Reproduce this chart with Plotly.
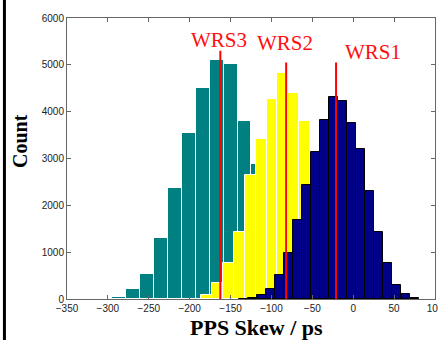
import plotly.graph_objects as go

# ---- data ----
teal_left_edge = -294.5
teal_bin_width = 17.0
teal_counts = [36, 214, 536, 1293, 2371, 3536, 4508, 5093, 5014, 3807, 2893]

yellow_left_edge = -185.7
yellow_bin_width = 13.29
yellow_counts = [86, 336, 778, 1436, 2657, 3407, 4264, 4836, 4393, 3807]

navy_left_edge = -139.4
navy_bin_width = 10.97
navy_counts = [5, 15, 86, 207, 514, 979, 1686, 2429, 3136, 3821,
               4321, 4229, 3750, 3207, 2300, 1436, 778, 300, 100, 15]

wrs_labels = ["WRS3", "WRS2", "WRS1"]
wrs_positions = [-162.5, -82.0, -21.0]
wrs_line_tops = [5300, 5050, 5050]
wrs_label_x = [-164, -84, 24]
wrs_label_y = [5540, 5460, 5280]

x_ticks = [-350, -300, -250, -200, -150, -100, -50, 0, 50, 100]
y_ticks = [0, 1000, 2000, 3000, 4000, 5000, 6000]


def centers(start, width, n):
    return [start + width * (i + 0.5) for i in range(n)]


fig = go.Figure()
fig.add_trace(go.Bar(
    x=centers(teal_left_edge, teal_bin_width, len(teal_counts)), y=teal_counts,
    width=teal_bin_width, marker=dict(color="#008080", line=dict(color="white", width=1)),
    showlegend=False))
fig.add_trace(go.Bar(
    x=centers(yellow_left_edge, yellow_bin_width, len(yellow_counts)), y=yellow_counts,
    width=yellow_bin_width, marker=dict(color="#ffff00", line=dict(color="white", width=1)),
    showlegend=False))
fig.add_trace(go.Bar(
    x=centers(navy_left_edge, navy_bin_width, len(navy_counts)), y=navy_counts,
    width=navy_bin_width, marker=dict(color="#000088", line=dict(color="black", width=1)),
    showlegend=False))

for pos, top, lab, lx, ly in zip(wrs_positions, wrs_line_tops, wrs_labels, wrs_label_x, wrs_label_y):
    fig.add_shape(type="line", xref="x", yref="y", x0=pos, x1=pos, y0=0, y1=top,
                  line=dict(color="#ff0000", width=2))
    fig.add_annotation(x=lx, y=ly, xref="x", yref="y", text=lab, showarrow=False,
                       font=dict(family="Liberation Serif", size=21, color="#ff1010"),
                       xanchor="center", yanchor="middle")

# axis titles as annotations
fig.add_annotation(x=0.5136, y=-0.101, xref="paper", yref="paper", text="<b>PPS Skew / ps</b>",
                   showarrow=False, font=dict(family="Liberation Serif", size=22, color="black"),
                   xanchor="center", yanchor="middle")
fig.add_annotation(x=-0.128, y=0.562, xref="paper", yref="paper", text="<b>Count</b>",
                   showarrow=False, textangle=-90,
                   font=dict(family="Liberation Serif", size=20, color="black"),
                   xanchor="center", yanchor="middle")

# left black border of the picture
fig.add_shape(type="line", xref="paper", yref="paper", x0=-0.17, x1=-0.17, y0=-0.3, y1=1.3,
              line=dict(color="black", width=3))

axis_common = dict(showline=True, linecolor="#666666", linewidth=1, mirror="ticks",
                   ticks="inside", ticklen=4, tickcolor="#666666", showgrid=False,
                   zeroline=False, ticklabeloverflow="allow", automargin=False,
                   tickfont=dict(family="Liberation Sans", size=10, color="#222222"))

fig.update_layout(
    width=438, height=340,
    margin=dict(l=67, r=3, t=18, b=41),
    paper_bgcolor="white", plot_bgcolor="white",
    barmode="overlay", bargap=0,
    xaxis=dict(range=[-350, 100], tickvals=x_ticks, **axis_common),
    yaxis=dict(range=[0, 6000], tickvals=y_ticks, **axis_common),
)

fig.write_html("out.html", config={"displayModeBar": False},
               post_script="document.body.style.margin='0px';document.body.style.overflow='hidden';")
